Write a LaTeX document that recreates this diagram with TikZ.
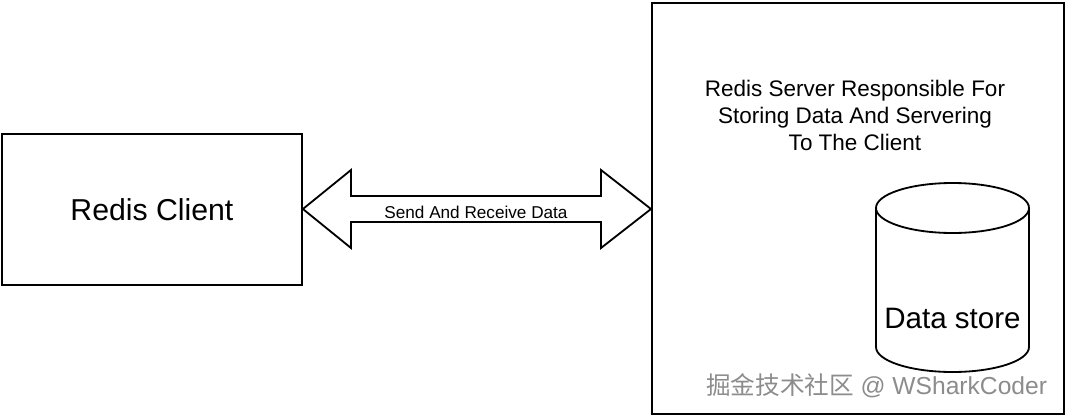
\documentclass[tikz,border=0pt]{standalone}
\usepackage{fontspec}
\setmainfont{Liberation Sans}
\newfontfamily\cjk{Noto Sans CJK SC}
\usetikzlibrary{positioning}
\tikzset{
  box/.style={draw, line width=1.3pt, inner sep=0pt},
  outline/.style={line width=1.3pt},
}
\begin{document}
\begin{tikzpicture}[x=0.025cm, y=-0.025cm]
  \useasboundingbox (0,0) rectangle (1065,415);
  \node[box, minimum width=7.5cm, minimum height=3.775cm, anchor=north west] (client) at (1,133)
    {\fontsize{21.5}{24}\selectfont Redis Client};
  \node[box, minimum width=10.3cm, minimum height=10.275cm, anchor=north west] (server) at (651,2) {};
  \node[align=center, font=\fontsize{16}{19.2}\selectfont] (desc) at (855,115)
    {Redis Server Responsible For\\Storing Data And Servering\\To The Client};

  % data store cylinder
  \draw[outline, fill=white] (876,208) -- (876,347) arc[start angle=180, end angle=360, x radius=76.5, y radius=-25]
    -- (1029,208) arc[start angle=0, end angle=180, x radius=76.5, y radius=-25] -- cycle;
  \draw[outline] (876,208) arc[start angle=180, end angle=360, x radius=76.5, y radius=-25];
  \node[font=\fontsize{21}{24}\selectfont] (dblabel) at (952.5,318) {Data store};

  % double arrow between client and server
  \draw[outline, fill=white] (client.east |- 0,209) -- (351,170) -- (351,196) -- (601,196)
    -- (601,170) -- (server.west |- 0,209) -- (601,248) -- (601,222) -- (351,222) -- (351,248) -- cycle;
  \node[font=\fontsize{12.2}{14}\selectfont] (label) at (476,212) {Send And Receive Data};

  \node[anchor=east, text=gray!90, font=\fontsize{17.5}{20}\selectfont] (mark) at (1052,386)
    {{\cjk 掘金技术社区} @ WSharkCoder};
\end{tikzpicture}
\end{document}
